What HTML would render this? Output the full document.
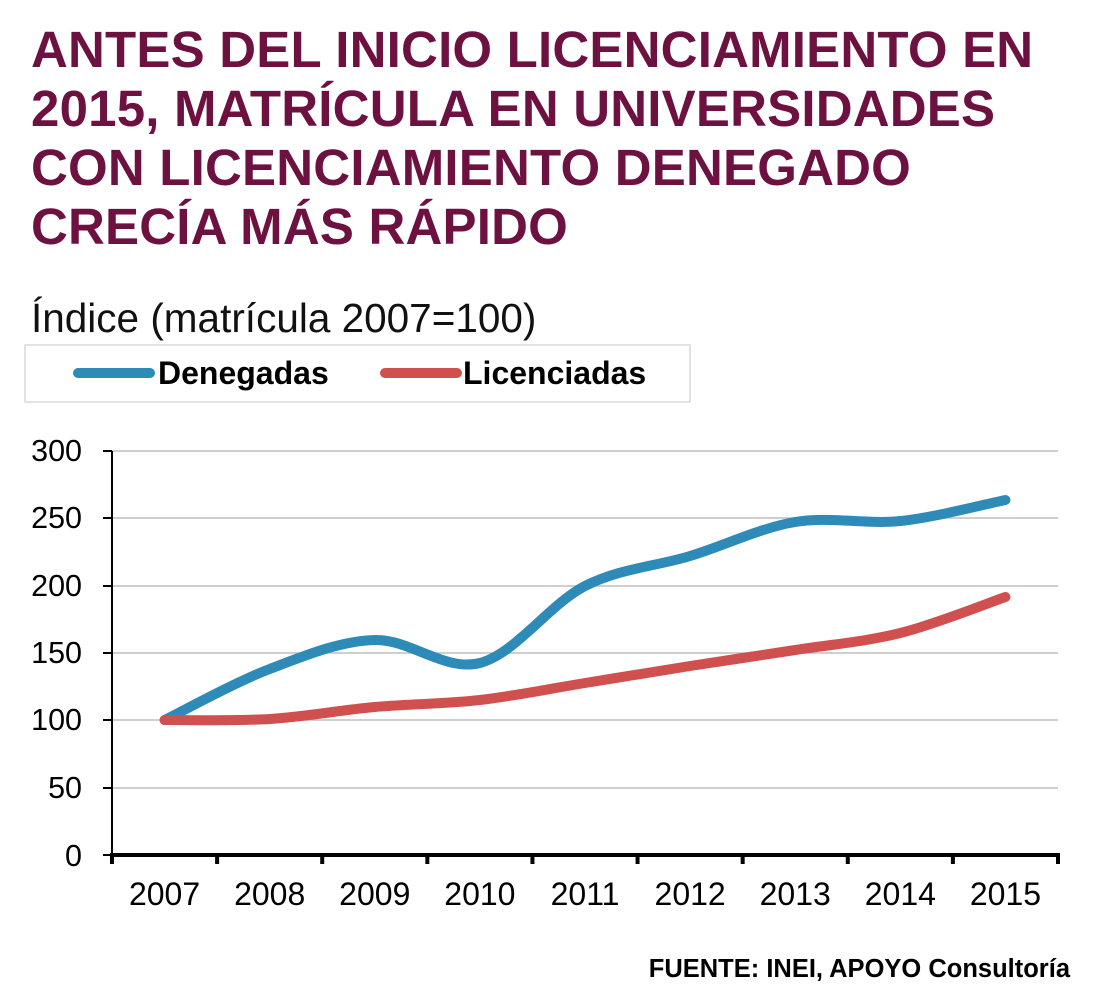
<!DOCTYPE html>
<html><head><meta charset="utf-8"><style>
html,body{margin:0;padding:0;background:#fff;}
body{width:1097px;height:1000px;position:relative;overflow:hidden;font-family:"Liberation Sans",sans-serif;}
.t{position:absolute;left:31px;top:20px;color:#6d1140;font-weight:bold;font-size:51px;line-height:59px;letter-spacing:0.2px;}
.s{position:absolute;left:31px;top:295px;font-size:40.5px;color:#111;}
.f{position:absolute;right:27px;top:955px;font-size:25.5px;font-weight:bold;color:#000;}
</style></head><body>
<div class="t">ANTES DEL INICIO LICENCIAMIENTO EN<br>2015, MATRÍCULA EN UNIVERSIDADES<br>CON LICENCIAMIENTO DENEGADO<br>CRECÍA MÁS RÁPIDO</div>
<div class="s">Índice (matrícula 2007=100)</div>
<svg width="1097" height="1000" style="position:absolute;left:0;top:0" font-family="Liberation Sans, sans-serif">
<rect x="25" y="345" width="665" height="57" fill="none" stroke="#d9d9d9" stroke-width="1.5"/>
<line x1="78" y1="373" x2="150" y2="373" stroke="#2e8bb8" stroke-width="10" stroke-linecap="round"/>
<text x="158" y="384" font-size="32" font-weight="bold">Denegadas</text>
<line x1="385" y1="373" x2="457" y2="373" stroke="#d05050" stroke-width="10" stroke-linecap="round"/>
<text x="463" y="384" font-size="32" font-weight="bold">Licenciadas</text>
<g stroke="#bfbfbf" stroke-width="1.5">
<line x1="112" x2="1058" y1="451" y2="451"/><line x1="112" x2="1058" y1="518" y2="518"/>
<line x1="112" x2="1058" y1="586" y2="586"/><line x1="112" x2="1058" y1="653" y2="653"/>
<line x1="112" x2="1058" y1="720" y2="720"/><line x1="112" x2="1058" y1="788" y2="788"/>
</g>
<line x1="112" y1="451" x2="112" y2="856" stroke="#000" stroke-width="2"/>
<g stroke="#000" stroke-width="2">
<line x1="103" x2="112" y1="451" y2="451"/><line x1="103" x2="112" y1="518" y2="518"/>
<line x1="103" x2="112" y1="586" y2="586"/><line x1="103" x2="112" y1="653" y2="653"/>
<line x1="103" x2="112" y1="720" y2="720"/><line x1="103" x2="112" y1="788" y2="788"/>
<line x1="103" x2="112" y1="855" y2="855"/>
</g>
<line x1="110" y1="855" x2="1060" y2="855" stroke="#000" stroke-width="4"/>
<g id="xt" stroke="#000" stroke-width="4"></g>
<g font-size="30.5" text-anchor="end" fill="#000">
<text x="82" y="461">300</text><text x="82" y="528">250</text><text x="82" y="596">200</text>
<text x="82" y="663">150</text><text x="82" y="730">100</text><text x="82" y="798">50</text><text x="82" y="866">0</text>
</g>
<g id="xl" font-size="32" text-anchor="middle" fill="#000"></g>
<path id="p1" fill="none" stroke="#2e8bb8" stroke-width="10" stroke-linecap="round" stroke-linejoin="round"/>
<path id="p2" fill="none" stroke="#d05050" stroke-width="10" stroke-linecap="round" stroke-linejoin="round"/>
</svg>
<div class="f">FUENTE: INEI, APOYO Consultoría</div>
<script>
var NS="http://www.w3.org/2000/svg";
var x0=112,w=(1058-112)/9,xs=[];
for(var i=0;i<9;i++)xs.push(x0+w*(i+0.5));
var xt=document.getElementById('xt'),xl=document.getElementById('xl');
for(var i=0;i<=9;i++){var l=document.createElementNS(NS,'line');var x=x0+w*i;l.setAttribute('x1',x);l.setAttribute('x2',x);l.setAttribute('y1',855);l.setAttribute('y2',864);xt.appendChild(l);}
for(var i=0;i<9;i++){var t=document.createElementNS(NS,'text');t.setAttribute('x',xs[i]);t.setAttribute('y',905);t.textContent=2007+i;xl.appendChild(t);}
function path(ys){var p=xs.map(function(x,i){return [x,ys[i]];});var d="M"+p[0][0]+","+p[0][1];
for(var i=0;i<p.length-1;i++){var a=p[Math.max(i-1,0)],b=p[i],c=p[i+1],e=p[Math.min(i+2,p.length-1)];
var k=1/6;d+=" C"+(b[0]+(c[0]-a[0])*k)+","+(b[1]+(c[1]-a[1])*k)+" "+(c[0]-(e[0]-b[0])*k)+","+(c[1]-(e[1]-b[1])*k)+" "+c[0]+","+c[1];}return d;}
document.getElementById('p1').setAttribute('d',path([720,669,640,663,586,556,522,521,500]));
document.getElementById('p2').setAttribute('d',path([720,719,707,700,683,666,650,633,597]));
</script>
</body></html>
